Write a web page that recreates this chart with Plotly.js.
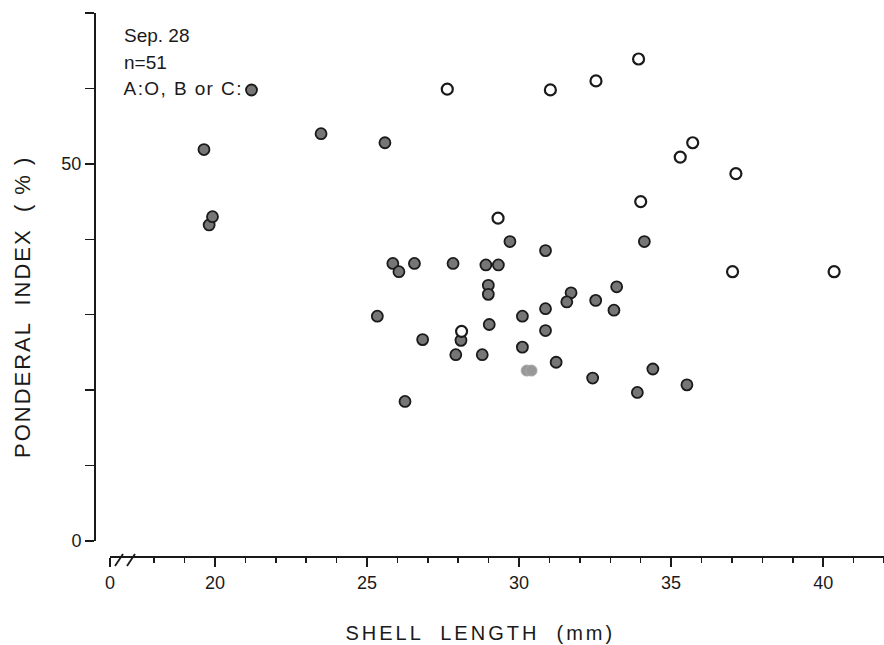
<!DOCTYPE html>
<html>
<head>
<meta charset="utf-8">
<script src="https://cdn.plot.ly/plotly-3.0.1.min.js"></script>
<style>
  html, body { margin: 0; padding: 0; background: #fff; }
  #chart { width: 884px; height: 645px; }
  .annotation[data-index="2"] .annotation-text { letter-spacing: 1.4px; }
  .annotation[data-index="3"] .annotation-text { letter-spacing: 3px; }
  .annotation[data-index="4"] .annotation-text { letter-spacing: 2px; }
</style>
</head>
<body>
<div id="chart"></div>
<script>
// Group A (open circles): shell length (mm), ponderal index (%)
const groupA_x = [27.64, 31.03, 32.53, 33.93, 35.71, 35.30, 37.13, 34.00, 29.31, 37.02, 40.36, 28.11];
const groupA_y = [59.9, 59.8, 61.0, 63.9, 52.8, 50.9, 48.7, 45.0, 42.8, 35.7, 35.7, 27.8];

// Group B or C (filled circles)
const groupBC_x = [19.64, 23.49, 25.59, 19.81, 19.92, 29.70, 30.87, 34.12, 28.91, 29.32,
                   28.99, 28.99, 31.71, 31.57, 32.52, 33.21, 33.12, 30.87, 30.11, 29.02,
                   30.87, 28.09, 30.11, 28.79, 31.22, 32.42, 34.40, 33.89, 35.52, 25.85,
                   26.05, 26.56, 27.83, 25.34, 26.83, 27.92, 26.25];
const groupBC_y = [51.9, 54.0, 52.8, 41.9, 43.0, 39.7, 38.5, 39.7, 36.6, 36.6,
                   33.9, 32.7, 32.9, 31.7, 31.9, 33.7, 30.6, 30.8, 29.8, 28.7,
                   27.9, 26.6, 25.7, 24.7, 23.7, 21.6, 22.8, 19.7, 20.7, 36.8,
                   35.7, 36.8, 36.8, 29.8, 26.7, 24.7, 18.5];

// Two faintly printed B/C points
const faintBC_x = [30.25, 30.41];
const faintBC_y = [22.6, 22.6];

// Axis ticks
const xTickVals = [16.55, 20, 25, 30, 35, 40];
const xTickText = ['0', '20', '25', '30', '35', '40'];
const xMinorVals = [18, 19, 21, 22, 23, 24, 26, 27, 28, 29, 31, 32, 33, 34, 36, 37, 38, 39, 41, 42];
const yTickVals = [0, 10, 20, 30, 40, 50, 60, 70];
const yTickText = ['0', '', '', '', '', '50', '', ''];

const W = 884, H = 645, L = 95, R = 0, T = 13, B = 88;
const pw = W - L - R, ph = H - T - B;
const px = v => (v - L) / pw;          // pixel -> paper x
const py = v => (H - B - v) / ph;      // pixel -> paper y

const FONT = 'Liberation Sans, Arial, sans-serif';
const INK = '#1a1a1a';
const FILL = '#767676';

const traces = [
  {
    type: 'scatter', mode: 'markers', name: 'B or C',
    x: groupBC_x, y: groupBC_y,
    marker: { size: 11, color: FILL, line: { color: INK, width: 1.8 } },
    cliponaxis: false, showlegend: false
  },
  {
    type: 'scatter', mode: 'markers', name: 'B or C (faint)',
    x: faintBC_x, y: faintBC_y,
    marker: { size: 11, color: '#989898', line: { color: '#a8a8a8', width: 1 } },
    cliponaxis: false, showlegend: false
  },
  {
    type: 'scatter', mode: 'markers', name: 'A',
    x: groupA_x, y: groupA_y,
    marker: { size: 11, color: '#ffffff', line: { color: INK, width: 2.2 } },
    cliponaxis: false, showlegend: false
  }
];

const layout = {
  width: W, height: H,
  margin: { l: L, r: R, t: T, b: B, pad: 0 },
  paper_bgcolor: '#ffffff', plot_bgcolor: '#ffffff',
  font: { family: FONT, color: INK, size: 18 },
  showlegend: false,
  xaxis: {
    domain: [px(110), 1],
    range: [16.55, 42.0],
    anchor: 'free', position: 0,
    showline: true, linecolor: INK, linewidth: 2,
    showgrid: false, zeroline: false,
    tickmode: 'array', tickvals: xTickVals, ticktext: xTickText,
    ticks: 'outside', ticklen: 9, tickwidth: 1.5, tickcolor: INK,
    minor: { tickmode: 'array', tickvals: xMinorVals, ticks: 'outside', ticklen: 5, tickwidth: 1.5, tickcolor: INK, showgrid: false },
    tickfont: { family: FONT, size: 18, color: INK },
    fixedrange: true
  },
  yaxis: {
    domain: [py(541), 1],
    range: [0, 70],
    anchor: 'free', position: 0,
    showline: true, linecolor: INK, linewidth: 2,
    showgrid: false, zeroline: false,
    tickmode: 'array', tickvals: yTickVals, ticktext: yTickText,
    ticks: 'outside', ticklen: 9, tickwidth: 1.5, tickcolor: INK,
    tickfont: { family: FONT, size: 18, color: INK },
    fixedrange: true
  },
  annotations: [
    { xref: 'paper', yref: 'paper', x: px(122), y: py(36), xanchor: 'left', yanchor: 'middle',
      text: 'Sep. 28', showarrow: false, font: { family: FONT, size: 19, color: INK } },
    { xref: 'paper', yref: 'paper', x: px(122), y: py(62), xanchor: 'left', yanchor: 'middle',
      text: 'n=51', showarrow: false, font: { family: FONT, size: 19, color: INK } },
    { xref: 'paper', yref: 'paper', x: px(130), y: py(89), xanchor: 'left', yanchor: 'middle',
      text: 'A:O, B or C:', showarrow: false, font: { family: FONT, size: 19, color: INK } },
    // x-axis title
    { xref: 'paper', yref: 'paper', x: px(480), y: py(633), xanchor: 'center', yanchor: 'middle',
      text: 'SHELL  LENGTH  (mm)', showarrow: false, font: { family: FONT, size: 20, color: INK } },
    // y-axis title
    { xref: 'paper', yref: 'paper', x: px(22), y: py(307), xanchor: 'center', yanchor: 'middle',
      textangle: -90,
      text: 'PONDERAL  INDEX  ( % )', showarrow: false, font: { family: FONT, size: 22, color: INK } }
  ],
  shapes: [
    // legend swatch for B or C
    { type: 'circle', xref: 'paper', yref: 'paper',
      x0: px(246), x1: px(257), y0: py(95.5), y1: py(84.5),
      fillcolor: FILL, line: { color: INK, width: 1.8 } },
    // axis break marks
    { type: 'line', xref: 'paper', yref: 'paper', x0: px(115), y0: py(566), x1: px(123), y1: py(554),
      line: { color: INK, width: 1.8 } },
    { type: 'line', xref: 'paper', yref: 'paper', x0: px(127), y0: py(566), x1: px(135), y1: py(554),
      line: { color: INK, width: 1.8 } }
  ]
};

Plotly.newPlot('chart', traces, layout, { staticPlot: true, displayModeBar: false });
</script>
</body>
</html>
